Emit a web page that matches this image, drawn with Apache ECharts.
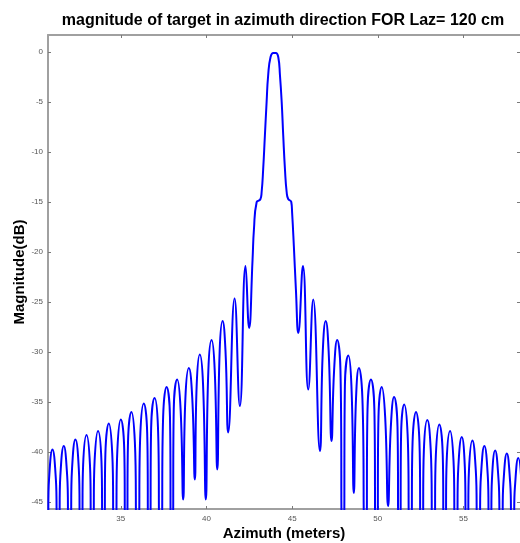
<!DOCTYPE html>
<html>
<head>
<meta charset="utf-8">
<script src="https://cdn.jsdelivr.net/npm/echarts@6/dist/echarts.min.js"></script>
<style>
  html, body { margin: 0; padding: 0; background: #ffffff; }
  #chart { width: 520px; height: 543px; }
</style>
</head>
<body>
<div id="chart"></div>
<script>
// azimuth position (m) and magnitude (dB), one row per lobe
// points at -47 are where the trace leaves the bottom of the axes
const azimuth = [
  30.63,
  30.73, 30.81, 31.01, 31.21, 31.29,
  31.39, 31.47, 31.67, 31.87, 31.96,
  32.06, 32.15, 32.35, 32.55, 32.63,
  32.73, 32.8, 33.0, 33.2, 33.28,
  33.38, 33.47, 33.67, 33.87, 33.94,
  34.04, 34.1, 34.3, 34.5, 34.6,
  34.7, 34.8, 35.0, 35.2, 35.26,
  35.36, 35.42, 35.62, 35.82, 35.93,
  36.03, 36.14, 36.34, 36.54, 36.61,
  36.71, 36.77, 36.97, 37.17, 37.27,
  37.37, 37.47, 37.67, 37.87, 37.93,
  38.03, 38.09, 38.29, 38.49, 38.64,
  38.77, 38.97, 39.17, 39.32,
  39.43, 39.61, 39.8, 39.96,
  40.11, 40.3, 40.48, 40.63,
  40.77, 40.94, 41.11, 41.27,
  41.64, 41.95, 42.28, 42.49,
  42.69, 42.77, 42.93, 43.14, 43.22, 43.31, 43.41, 43.51, 43.6, 43.74, 43.9,
  44.05, 44.19, 44.29, 44.39, 44.48, 44.58, 44.68, 44.77, 44.95, 45.0, 45.1, 45.22,
  45.36, 45.63, 45.94, 46.23, 46.62,
  46.79, 46.96, 47.13, 47.3,
  47.45, 47.63, 47.82, 47.92,
  48.02, 48.08, 48.28, 48.46, 48.6,
  48.73, 48.9, 49.1, 49.23,
  49.33, 49.4, 49.6, 49.8, 49.87,
  49.97, 50.04, 50.23, 50.43, 50.6,
  50.76, 50.95, 51.15, 51.21,
  51.31, 51.36, 51.54, 51.74, 51.85,
  51.95, 52.03, 52.23, 52.43, 52.51,
  52.61, 52.69, 52.89, 53.09, 53.2,
  53.3, 53.39, 53.59, 53.79, 53.85,
  53.95, 54.02, 54.22, 54.42, 54.51,
  54.61, 54.7, 54.9, 55.08, 55.15,
  55.25, 55.32, 55.52, 55.72, 55.82,
  55.92, 56.02, 56.22, 56.42, 56.5,
  56.6, 56.66, 56.85, 57.05, 57.15,
  57.25, 57.33, 57.53, 57.73, 57.82,
  57.92, 58.0, 58.2, 58.4, 58.45
]
const magnitudeDb = [
  -47,
  -47, -42.75, -39.75, -42.75, -47,
  -47, -42.4, -39.4, -42.4, -47,
  -47, -41.75, -38.75, -41.75, -47,
  -47, -41.3, -38.3, -41.3, -47,
  -47, -40.9, -37.9, -40.9, -47,
  -47, -40.15, -37.15, -40.15, -47,
  -47, -39.75, -36.75, -39.75, -47,
  -47, -39.0, -36.0, -39.0, -47,
  -47, -38.15, -35.15, -38.15, -47,
  -47, -37.6, -34.6, -37.6, -47,
  -47, -36.5, -33.5, -36.5, -47,
  -47, -35.75, -32.75, -35.75, -44.75,
  -34.6, -31.6, -34.6, -42.75,
  -33.25, -30.25, -33.25, -44.75,
  -31.8, -28.8, -31.8, -41.75,
  -29.9, -26.9, -29.9, -38.05,
  -24.65, -35.4, -21.4, -27.6,
  -20.75, -17.75, -15.0, -14.75, -14.0, -11.7, -8.35, -5.0, -2.35, -0.5, -0.1,
  -0.1, -0.5, -2.35, -5.0, -8.35, -11.7, -14.0, -14.7, -15.0, -16.1, -19.4, -23.75,
  -28.1, -21.4, -33.75, -24.75, -39.9,
  -29.9, -26.9, -29.9, -38.9,
  -31.8, -28.8, -31.8, -47,
  -47, -33.35, -30.35, -33.35, -44.1,
  -34.6, -31.6, -34.6, -47,
  -47, -35.75, -32.75, -35.75, -47,
  -47, -36.5, -33.5, -36.5, -45.4,
  -37.5, -34.5, -37.5, -47,
  -47, -38.25, -35.25, -38.25, -47,
  -47, -39.0, -36.0, -39.0, -47,
  -47, -39.8, -36.8, -39.8, -47,
  -47, -40.25, -37.25, -40.25, -47,
  -47, -40.9, -37.9, -40.9, -47,
  -47, -41.5, -38.5, -41.5, -47,
  -47, -41.85, -38.85, -41.85, -47,
  -47, -42.4, -39.4, -42.4, -47,
  -47, -42.85, -39.85, -42.85, -47,
  -47, -43.15, -40.15, -43.15, -47,
  -47, -43.6, -40.6, -43.6, -47
]
const xTicks = [35, 40, 45, 50, 55]
const yTicks = [0, -5, -10, -15, -20, -25, -30, -35, -40, -45]

const chart = echarts.init(document.getElementById('chart'))

const font = '"Liberation Sans", Arial, sans-serif'
const axisColor = '#a0a0a0'
const tickColor = '#7a7a7a'
const xRange = { min: 30.75, max: 58.3 }
const yRange = { min: -45.7, max: 1.7 }

const points = azimuth.map((x, i) => [x, magnitudeDb[i]])

const option = {
  animation: false,
  title: {
    text: 'magnitude of target in azimuth direction FOR Laz= 120 cm',
    left: 283,
    top: 13,
    padding: 0,
    textAlign: 'center',
    textStyle: {
      fontFamily: font,
      fontSize: 16,
      fontWeight: 'bold',
      color: '#000000'
    }
  },
  grid: {
    left: 48,
    right: 0,
    top: 35,
    bottom: 34,
    outerBoundsMode: 'none'
  },
  xAxis: [
    {
      type: 'value',
      position: 'bottom',
      ...xRange,
      name: 'Azimuth (meters)',
      nameLocation: 'middle',
      nameGap: 17.5,
      nameMoveOverlap: false,
      nameTextStyle: {
        fontFamily: font,
        fontSize: 15,
        fontWeight: 'bold',
        color: '#000000'
      },
      axisLine: { onZero: false, lineStyle: { color: axisColor, width: 2 } },
      axisTick: {
        inside: true,
        length: 3,
        customValues: xTicks,
        lineStyle: { color: tickColor }
      },
      axisLabel: {
        customValues: xTicks,
        fontFamily: font,
        fontSize: 8,
        color: '#555555',
        margin: 6
      },
      splitLine: { show: false }
    },
    {
      type: 'value',
      position: 'top',
      ...xRange,
      axisLine: { onZero: false, lineStyle: { color: axisColor, width: 2 } },
      axisTick: {
        inside: true,
        length: 3,
        customValues: xTicks,
        lineStyle: { color: tickColor }
      },
      axisLabel: { show: false },
      splitLine: { show: false }
    }
  ],
  yAxis: [
    {
      type: 'value',
      position: 'left',
      ...yRange,
      name: 'Magnitude(dB)',
      nameLocation: 'middle',
      nameGap: 21,
      nameMoveOverlap: false,
      nameTextStyle: {
        fontFamily: font,
        fontSize: 15,
        fontWeight: 'bold',
        color: '#000000'
      },
      axisLine: { show: true, onZero: false, lineStyle: { color: axisColor, width: 2 } },
      axisTick: {
        show: true,
        inside: true,
        length: 3,
        customValues: yTicks,
        lineStyle: { color: tickColor }
      },
      axisLabel: {
        customValues: yTicks,
        fontFamily: font,
        fontSize: 8,
        color: '#555555',
        margin: 5
      },
      splitLine: { show: false }
    },
    {
      type: 'value',
      position: 'right',
      ...yRange,
      axisLine: { show: false, onZero: false },
      axisTick: {
        show: true,
        inside: true,
        length: 3,
        customValues: yTicks,
        lineStyle: { color: tickColor }
      },
      axisLabel: { show: false },
      splitLine: { show: false }
    }
  ],
  series: [
    {
      type: 'line',
      xAxisIndex: 0,
      yAxisIndex: 0,
      data: points,
      showSymbol: false,
      smooth: 0.5,
      clip: true,
      lineStyle: { color: '#0000ff', width: 2 }
    }
  ]
}

chart.setOption(option)
</script>
</body>
</html>
